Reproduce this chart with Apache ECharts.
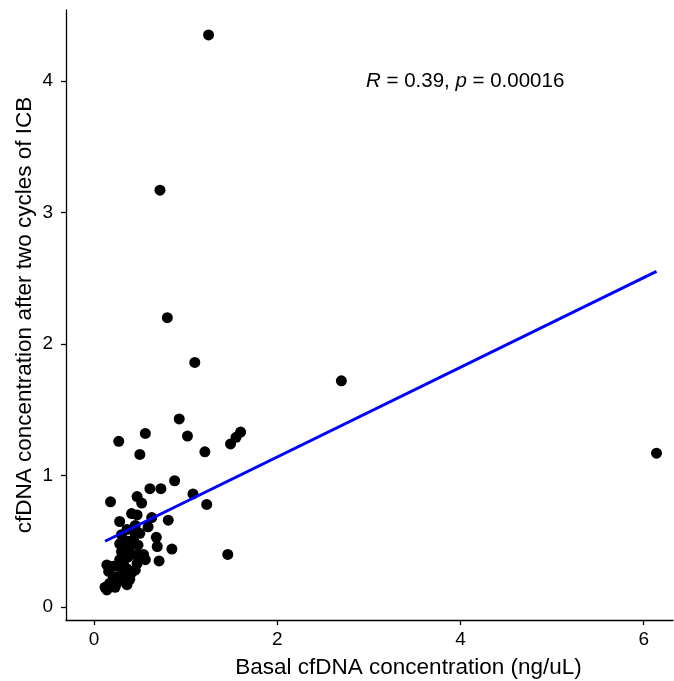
<!doctype html>
<html>
<head>
<meta charset="utf-8">
<title></title>
<script src="https://cdn.jsdelivr.net/npm/echarts@6/dist/echarts.min.js"></script>
<style>
html, body { margin: 0; padding: 0; background: #fff; }
#main { width: 674px; height: 681px; }
</style>
</head>
<body>
<div id="main"></div>
<script>
// basal vs after-ICB cfDNA (ng/uL)
var basal = [1.25, 0.72, 0.80, 1.10, 2.70, 6.14, 0.93, 1.02, 0.56, 0.27, 0.50, 1.21, 1.60, 1.55, 1.49,
	1.46, 1.23, 1.08, 0.88, 0.73, 0.61, 0.47, 0.18, 0.85, 0.81, 0.68, 0.69, 0.71, 0.63, 0.52,
	0.41, 0.47, 0.28, 0.45, 0.59, 0.54, 0.52, 0.45, 0.39, 0.36, 0.21, 0.16, 0.14, 0.12, 0.14,
	0.25, 0.28, 0.30, 0.28, 0.30, 0.36, 0.39, 0.37, 0.43, 0.48, 0.50, 0.56, 0.47, 0.25, 0.32,
	0.17, 0.21, 0.32, 0.36, 0.41, 0.34, 0.37, 0.48, 0.30, 0.23, 0.44, 0.33, 0.26, 0.40];
var afterICB = [4.35, 3.17, 2.20, 1.86, 1.72, 1.17, 1.43, 1.30, 1.32, 1.26, 1.16, 1.18, 1.33, 1.29, 1.24,
	0.40, 0.78, 0.86, 0.96, 0.90, 0.90, 0.84, 0.80, 0.44, 0.66, 0.53, 0.46, 0.35, 0.68, 0.79,
	0.71, 0.70, 0.65, 0.62, 0.61, 0.40, 0.37, 0.28, 0.21, 0.17, 0.22, 0.27, 0.32, 0.15, 0.13,
	0.31, 0.36, 0.42, 0.48, 0.55, 0.59, 0.46, 0.38, 0.51, 0.47, 0.56, 0.36, 0.33, 0.23, 0.26,
	0.18, 0.31, 0.34, 0.29, 0.40, 0.45, 0.50, 0.40, 0.22, 0.15, 0.57, 0.42, 0.19, 0.25];

var fitIntercept = 0.459, fitSlope = 0.341;
var xTicks = [0, 2, 4, 6];
var yTicks = [0, 1, 2, 3, 4];
var statR = '0.39', statP = '0.00016';

var pts = [];
for (var i = 0; i < basal.length; i++) pts.push([basal[i], afterICB[i]]);
var xLo = Math.min.apply(null, basal), xHi = Math.max.apply(null, basal);
var fitLine = [[xLo, fitIntercept + fitSlope * xLo], [xHi, fitIntercept + fitSlope * xHi]];

var font = 'Liberation Sans';
var chart = echarts.init(document.getElementById('main'));
chart.setOption({
	animation: false,
	grid: { left: 66, right: 1, top: 10, bottom: 61, containLabel: false, outerBoundsMode: 'none' },
	xAxis: {
		type: 'value', min: -0.306, max: 6.32,
		name: 'Basal cfDNA concentration (ng/uL)', nameLocation: 'middle', nameGap: 36,
		nameMoveOverlap: false,
		nameTextStyle: { fontFamily: font, fontSize: 22.5, color: '#000', padding: [0, 0, 0, 78] },
		splitLine: { show: false },
		axisLine: { onZero: false, lineStyle: { color: '#000', width: 1.3 } },
		axisTick: { show: true, length: 5, lineStyle: { color: '#000', width: 1.3 }, customValues: xTicks },
		axisLabel: { fontFamily: font, fontSize: 19, color: '#000', margin: 10, customValues: xTicks }
	},
	yAxis: {
		type: 'value', min: -0.099, max: 4.54,
		name: 'cfDNA concentration after two cycles of ICB', nameLocation: 'middle', nameGap: 30,
		nameMoveOverlap: false,
		nameTextStyle: { fontFamily: font, fontSize: 22.5, color: '#000' },
		splitLine: { show: false },
		axisLine: { onZero: false, lineStyle: { color: '#000', width: 1.3 } },
		axisTick: { show: true, length: 5, lineStyle: { color: '#000', width: 1.3 }, customValues: yTicks },
		axisLabel: { fontFamily: font, fontSize: 19, color: '#000', margin: 13, customValues: yTicks }
	},
	series: [
		{
			type: 'scatter', data: pts, symbolSize: 11,
			itemStyle: { color: '#000', opacity: 1 }, z: 2
		},
		{
			type: 'line', data: fitLine, symbol: 'none',
			lineStyle: { color: '#0000ff', width: 3 }, z: 3
		}
	],
	graphic: [{
		type: 'text', left: 366, top: 71,
		style: {
			text: '{i|R} = ' + statR + ', {i|p} = ' + statP,
			fontFamily: font, fontSize: 20.5, fill: '#000',
			rich: { i: { fontStyle: 'italic', fontFamily: font, fontSize: 20.5 } }
		}
	}]
});
</script>
</body>
</html>
